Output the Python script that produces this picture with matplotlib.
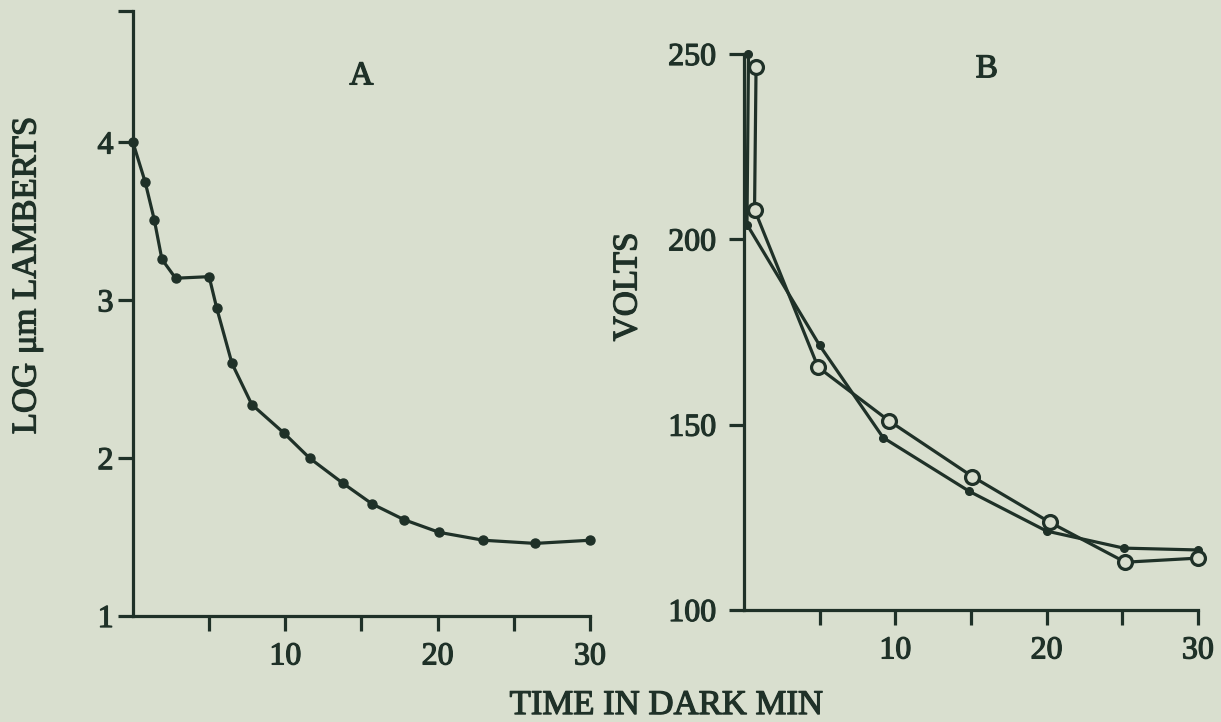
"""
暗順応曲線 (A: 閾値, B: 電圧)
"""
import matplotlib
matplotlib.use("Agg")
import matplotlib.pyplot as plt
import matplotlib.patheffects as pe

# A: 暗順応曲線 (log μμL)
time_a = [0, 0.8, 1.4, 1.9, 2.8, 5.0, 5.5, 6.5, 7.8, 9.9, 11.6, 13.8, 15.7, 17.8, 20.1, 23.0, 26.4, 30]
log_lum = [4.0, 3.75, 3.51, 3.26, 3.14, 3.15, 2.95, 2.6, 2.34, 2.16, 2.0, 1.84, 1.71, 1.61, 1.53, 1.48, 1.46, 1.48]

# B: 電圧 (白丸, 黒丸)
time_open = [0.8, 0.7, 4.9, 9.6, 15.1, 20.2, 25.2, 30]
volts_open = [246.5, 208, 165.5, 151, 136, 123.7, 112.9, 114]
time_filled = [0.3, 0.2, 5.0, 9.2, 14.9, 20.0, 25.1, 30]
volts_filled = [250, 204, 171.4, 146.5, 132, 121.3, 116.7, 116.2]

x_ticks = [5, 10, 15, 20, 25, 30]
x_labels = ['', '10', '', '20', '', '30']

paper = '#d9dfcf'
ink = '#1f3128'
heavy = [pe.withStroke(linewidth=0.9, foreground=ink)]  # 印刷のにじみ風に少し太く

plt.rcParams['font.family'] = ['Liberation Serif', 'DejaVu Serif']

fig = plt.figure(figsize=(12.21, 7.22), dpi=100, facecolor=paper)
ax_a = fig.add_axes([0.1089, 0.1468, 0.3743, 0.8373])
ax_b = fig.add_axes([0.6093, 0.1551, 0.3718, 0.7701])

# 軸の共通設定
for ax in (ax_a, ax_b):
    ax.set_facecolor(paper)
    for side in ('top', 'right'):
        ax.spines[side].set_visible(False)
    for side in ('left', 'bottom'):
        ax.spines[side].set_linewidth(2.3)
        ax.spines[side].set_color(ink)
    ax.set_xlim(0, 30)
    ax.set_xticks(x_ticks)
    ax.set_xticklabels(x_labels)
    ax.tick_params(axis='both', colors=ink, width=2.3, length=11, labelsize=23)
    ax.tick_params(axis='x', pad=8)

# A
ax_a.plot(time_a, log_lum, color=ink, lw=2.3, marker='o', ms=6.5, clip_on=False)
ax_a.set_ylim(1, 4.83)
ax_a.set_yticks([1, 2, 3, 4, 4.83])
ax_a.set_yticklabels(['1', '2', '3', '4', ''])
ax_a.tick_params(axis='y', pad=3)
ax_a.text(0.5, 0.893, 'A', transform=ax_a.transAxes, ha='center', va='center', fontsize=24, color=ink,
          path_effects=heavy)

# B
ax_b.plot(time_filled, volts_filled, color=ink, lw=2.3, marker='o', ms=5.5, clip_on=False)
ax_b.plot(time_open, volts_open, color=ink, lw=2.3, marker='o', ms=10, mfc=paper, mec=ink, mew=2.3, clip_on=False)
ax_b.set_ylim(100, 250)
ax_b.set_yticks([100, 150, 200, 250])
ax_b.tick_params(axis='y', pad=9)
ax_b.text(0.535, 0.973, 'B', transform=ax_b.transAxes, ha='center', va='center', fontsize=24, color=ink,
          path_effects=heavy)

for ax in (ax_a, ax_b):
    for lab in ax.get_xticklabels() + ax.get_yticklabels():
        lab.set_path_effects(heavy)

# 軸ラベル
fig.text(0.0221, 0.619, 'LOG μm LAMBERTS', rotation=90, ha='center', va='center', fontsize=25, color=ink,
         path_effects=heavy)
fig.text(0.5143, 0.6025, 'VOLTS', rotation=90, ha='center', va='center', fontsize=25, color=ink,
         path_effects=heavy)
fig.text(0.546, 0.011, 'TIME IN DARK MIN', ha='center', va='baseline', fontsize=25, color=ink,
         path_effects=heavy)

fig.savefig('out.png', dpi=100, facecolor=paper)
